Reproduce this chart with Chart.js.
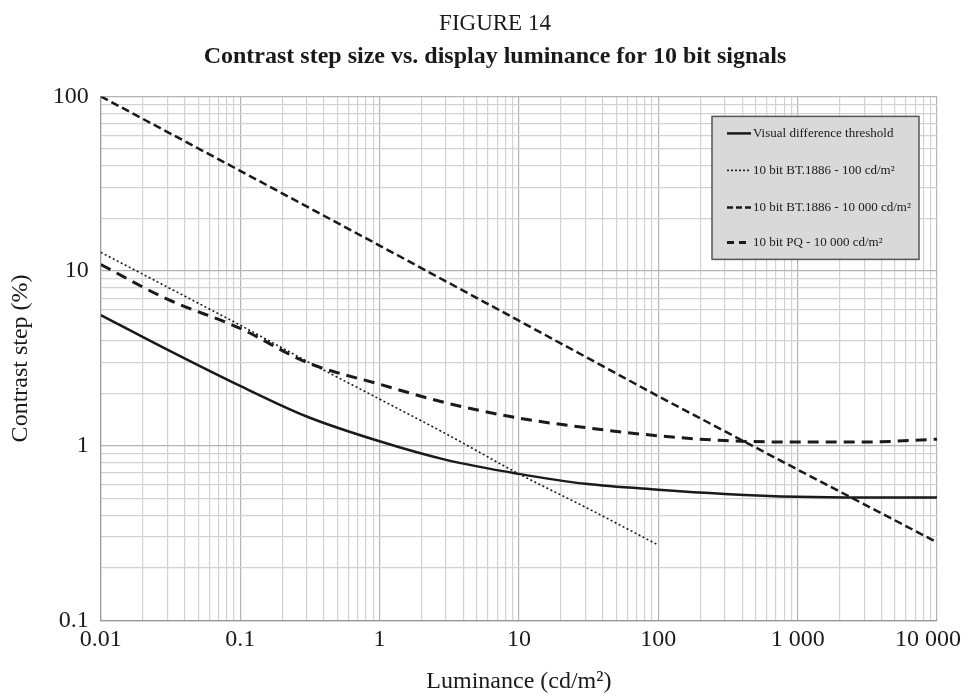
<!DOCTYPE html>
<html>
<head>
<meta charset="utf-8">
<script src="https://cdn.jsdelivr.net/npm/chart.js@4.4.1/dist/chart.umd.min.js"></script>
<style>
  html, body { margin: 0; padding: 0; background: #fff; overflow: hidden; }
  #wrap { width: 984px; height: 698px; }
</style>
</head>
<body>
<div id="wrap"><canvas id="grafico"></canvas></div>
<script>
// ===== DADOS =====
const luminancia = [0.01, 0.03, 0.1, 0.3, 1, 3, 10, 30, 100, 300, 1000, 3000, 10000];
const limiarVisual = [5.6, 3.55, 2.2, 1.47, 1.06, 0.83, 0.69, 0.605, 0.56, 0.53, 0.51, 0.505, 0.505];
const pq10000 = [10.9, 6.9, 4.7, 3.0, 2.25, 1.76, 1.44, 1.27, 1.14, 1.07, 1.05, 1.05, 1.09];

const luminanciaBT100 = [0.01, 0.03, 0.1, 0.3, 1, 3, 10, 30, 100];
const bt1886_100 = [12.8, 8.1, 4.9, 3.05, 1.85, 1.17, 0.69, 0.445, 0.27];

const luminanciaBT10000 = [0.01, 0.1, 1, 10, 100, 1000, 10000];
const bt1886_10000 = [100, 37.5, 14, 5.2, 1.92, 0.73, 0.28];

// último rótulo com espaços no fim para ficar dentro da figura
const rotulosX = ['0.01', '0.1', '1', '10', '100', '1 000', '10 000\u00a0\u00a0\u00a0'];
const rotulosY = ['0.1', '1', '10', '100'];

const nomesSeries = [
    'Visual difference threshold',
    '10 bit BT.1886 - 100 cd/m²',
    '10 bit BT.1886 - 10 000 cd/m²',
    '10 bit PQ - 10 000 cd/m²'
];

const FONTE = "'Liberation Serif', 'Times New Roman', serif";
const COR = '#1a1a1a';

function pontos(xs, ys) {
    return xs.map((x, i) => ({ x: x, y: ys[i] }));
}

function ehDecada(v) {
    const l = Math.log10(v);
    return Math.abs(l - Math.round(l)) < 1e-9;
}

function ticksLog(minExp, maxExp) {
    const t = [];
    for (let e = minExp; e <= maxExp; e++) {
        for (let m = 1; m <= 9; m++) {
            if (e === maxExp && m > 1) break;
            t.push({ value: parseFloat((m * Math.pow(10, e)).toPrecision(6)) });
        }
    }
    return t;
}

// ===== LEGENDA DENTRO DO GRÁFICO =====
const legendaInterna = {
    id: 'legendaInterna',
    afterDatasetsDraw(chart) {
        const ctx = chart.ctx;
        const area = chart.chartArea;
        const x0 = area.right - 225, y0 = area.top + 20;
        const w = 207, h = 143;
        ctx.save();
        ctx.fillStyle = '#d9d9d9';
        ctx.fillRect(x0, y0, w, h);
        ctx.strokeStyle = '#555';
        ctx.lineWidth = 1.5;
        ctx.strokeRect(x0, y0, w, h);

        const linhasY = [17, 54, 91, 126];
        chart.data.datasets.forEach((ds, i) => {
            const y = y0 + linhasY[i];
            ctx.strokeStyle = ds.borderColor;
            ctx.lineWidth = ds.borderWidth;
            ctx.setLineDash(ds.legendDash || []);
            ctx.beginPath();
            ctx.moveTo(x0 + 15, y);
            ctx.lineTo(x0 + 39, y);
            ctx.stroke();
            ctx.setLineDash([]);
            ctx.fillStyle = COR;
            ctx.font = '13px ' + FONTE;
            ctx.textBaseline = 'middle';
            ctx.fillText(ds.label, x0 + 41, y);
        });
        ctx.restore();
    }
};

const ctx = document.getElementById('grafico').getContext('2d');
new Chart(ctx, {
    type: 'line',
    data: {
        datasets: [
            {
                label: nomesSeries[0],
                data: pontos(luminancia, limiarVisual),
                borderColor: COR, borderWidth: 2.5,
                cubicInterpolationMode: 'monotone', pointRadius: 0
            },
            {
                label: nomesSeries[1],
                data: pontos(luminanciaBT100, bt1886_100),
                borderColor: COR, borderWidth: 1.6, borderDash: [2, 2.5],
                legendDash: [2, 2], cubicInterpolationMode: 'monotone', pointRadius: 0
            },
            {
                label: nomesSeries[2],
                data: pontos(luminanciaBT10000, bt1886_10000),
                borderColor: COR, borderWidth: 2.5, borderDash: [8, 4],
                legendDash: [6, 3], pointRadius: 0
            },
            {
                label: nomesSeries[3],
                data: pontos(luminancia, pq10000),
                borderColor: COR, borderWidth: 3, borderDash: [11, 7],
                legendDash: [7, 5], cubicInterpolationMode: 'monotone', pointRadius: 0
            }
        ]
    },
    options: {
        responsive: true,
        maintainAspectRatio: false,
        animation: false,
        layout: { padding: { left: 6, right: 0, top: 0, bottom: 2 } },
        plugins: {
            legend: { display: false },
            tooltip: { enabled: false },
            title: {
                display: true,
                text: 'FIGURE 14',
                color: COR,
                font: { family: FONTE, size: 23, weight: 'normal' },
                padding: { top: 10, bottom: 2 }
            },
            subtitle: {
                display: true,
                text: 'Contrast step size vs. display luminance for 10 bit signals',
                color: COR,
                font: { family: FONTE, size: 24, weight: 'bold' },
                padding: { top: 3, bottom: 25 }
            }
        },
        scales: {
            x: {
                type: 'logarithmic',
                min: 0.01, max: 10000,
                afterBuildTicks: (s) => { s.ticks = ticksLog(-2, 4); },
                ticks: {
                    autoSkip: false, maxRotation: 0,
                    color: COR, padding: 5,
                    font: { family: FONTE, size: 24 },
                    callback: (v) => ehDecada(v) ? rotulosX[Math.round(Math.log10(v)) + 2] : ''
                },
                grid: {
                    color: (c) => ehDecada(c.tick.value) ? '#b4b4b4' : '#d2d2d2',
                    lineWidth: 1.2, drawTicks: false
                },
                border: { color: '#999', width: 1.2 },
                title: {
                    display: true, text: 'Luminance (cd/m²)', color: COR,
                    font: { family: FONTE, size: 24 }, padding: { top: 8, bottom: 0 }
                }
            },
            y: {
                type: 'logarithmic',
                min: 0.1, max: 100,
                afterBuildTicks: (s) => { s.ticks = ticksLog(-1, 2); },
                ticks: {
                    autoSkip: false, color: COR, padding: 12,
                    font: { family: FONTE, size: 24 },
                    callback: (v) => ehDecada(v) ? rotulosY[Math.round(Math.log10(v)) + 1] : ''
                },
                grid: {
                    color: (c) => ehDecada(c.tick.value) ? '#b4b4b4' : '#d2d2d2',
                    lineWidth: 1.2, drawTicks: false
                },
                border: { color: '#999', width: 1.2 },
                title: {
                    display: true, text: 'Contrast step (%)', color: COR,
                    font: { family: FONTE, size: 24 }, padding: { top: 0, bottom: 6 }
                }
            }
        }
    },
    plugins: [legendaInterna]
});
</script>
</body>
</html>
